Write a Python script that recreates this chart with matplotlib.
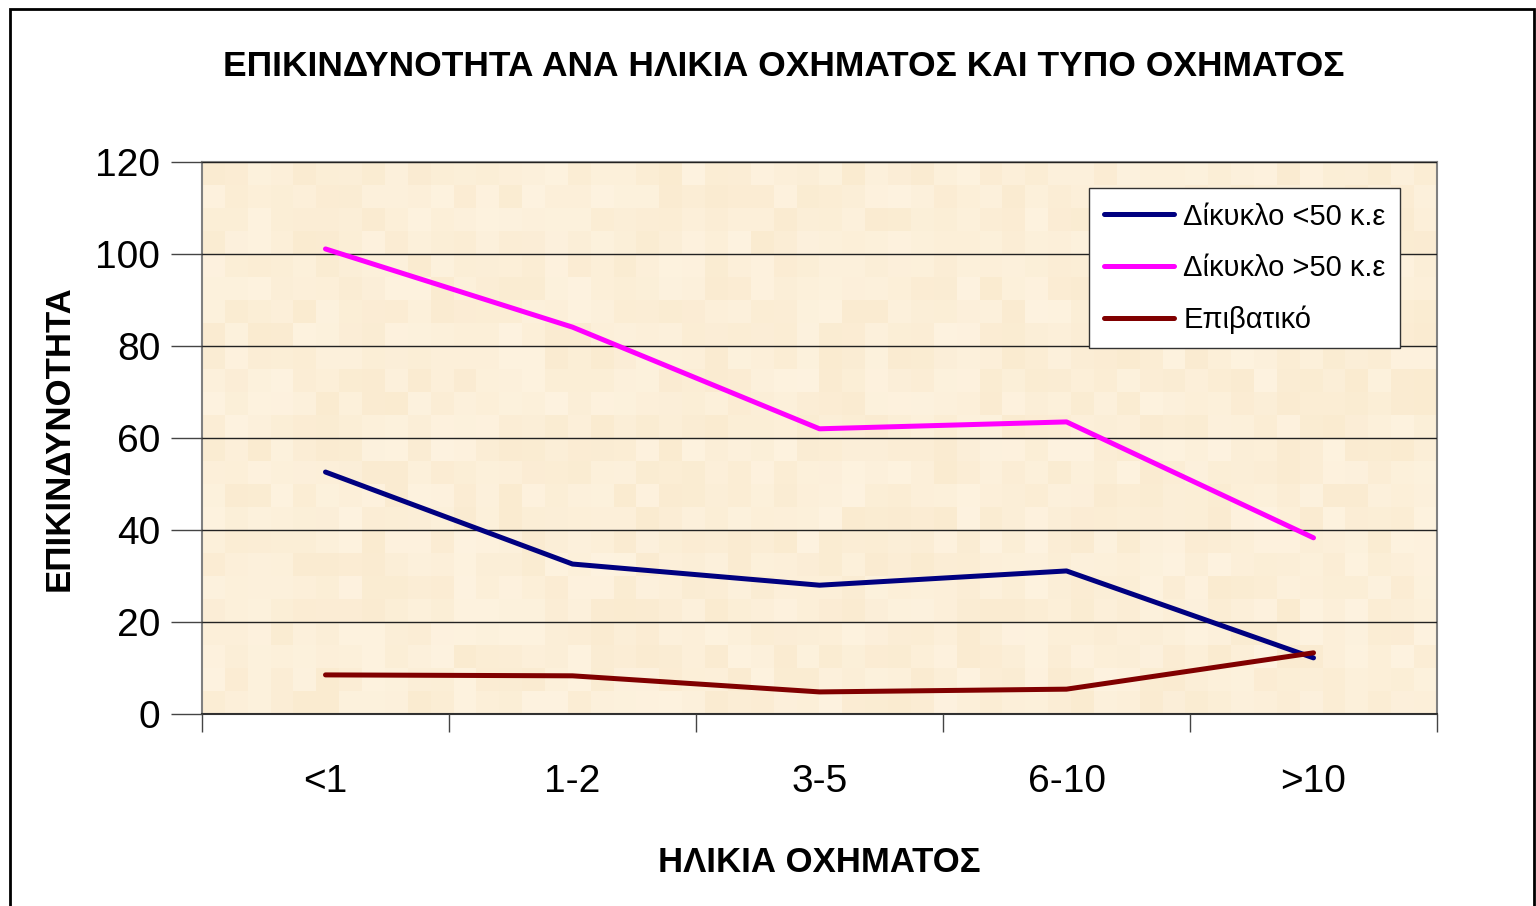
import numpy as np
import matplotlib
matplotlib.use("Agg")
import matplotlib.pyplot as plt
from matplotlib.patches import Rectangle

plt.rcParams['font.family'] = ['Liberation Sans Narrow', 'Liberation Sans', 'DejaVu Sans']

# 数据
categories = ["<1", "1-2", "3-5", "6-10", ">10"]
dikyklo_lt50 = [52.6, 32.6, 28.0, 31.1, 12.2]
dikyklo_gt50 = [101.1, 84.1, 62.0, 63.5, 38.3]
epivatiko = [8.5, 8.3, 4.8, 5.4, 13.3]
series_names = ["Δίκυκλο <50 κ.ε", "Δίκυκλο >50 κ.ε", "Επιβατικό"]
series_colors = ["#000080", "#FF00FF", "#800000"]
y_ticks = [0, 20, 40, 60, 80, 100, 120]

W, H = 1536, 906
fig = plt.figure(figsize=(W / 100, H / 100), dpi=100, facecolor="white")
ax = fig.add_axes([202 / W, 1 - 714 / H, (1437 - 202) / W, (714 - 162) / H])

# 背景纹理（米色方块）
rng = np.random.default_rng(3)
tex = rng.uniform(0, 1, (24, 54))
base = np.array([0.988, 0.937, 0.847])
img = base[None, None, :] + (tex[..., None] - 0.5) * np.array([0.012, 0.03, 0.06])[None, None, :]
ax.imshow(np.clip(img, 0, 1), extent=[-0.5, 4.5, 0, 120], aspect="auto",
          interpolation="nearest", zorder=0)

x = np.arange(len(categories))
for vals, name, col in zip([dikyklo_lt50, dikyklo_gt50, epivatiko], series_names, series_colors):
    ax.plot(x, vals, color=col, lw=3.6, label=name, solid_capstyle="round", zorder=3)

ax.set_xlim(-0.5, 4.5)
ax.set_ylim(0, 120)
ax.set_yticks(y_ticks)
ax.set_yticklabels([str(v) for v in y_ticks], fontsize=28)
ax.yaxis.grid(True, color="#222222", lw=1.0, zorder=1)
ax.set_axisbelow(False)

ax.set_xticks(x)
ax.set_xticklabels(categories, fontsize=28)
ax.set_xticks(np.arange(-0.5, 5, 1), minor=True)
ax.tick_params(axis="x", which="major", length=0, pad=36)
ax.tick_params(axis="x", which="minor", length=13, width=1, color="#444444", direction="out")
ax.tick_params(axis="y", length=22, width=1, color="#444444", pad=8)

for side in ["top", "right", "left"]:
    ax.spines[side].set_color("#808080")
    ax.spines[side].set_linewidth(1.5)
ax.spines["bottom"].set_color("#333333")
ax.spines["bottom"].set_linewidth(1.5)

ax.set_xlabel("ΗΛΙΚΙΑ ΟΧΗΜΑΤΟΣ", fontsize=25, fontweight="bold", labelpad=33)
ax.set_ylabel("ΕΠΙΚΙΝΔΥΝΟΤΗΤΑ", fontsize=25, fontweight="bold", labelpad=14)

fig.text(784 / W, 1 - 67 / H, "ΕΠΙΚΙΝΔΥΝΟΤΗΤΑ ΑΝΑ ΗΛΙΚΙΑ ΟΧΗΜΑΤΟΣ ΚΑΙ ΤΥΠΟ ΟΧΗΜΑΤΟΣ",
         ha="center", va="center", fontsize=25.5, fontweight="bold")

leg = ax.legend(loc="upper left", bbox_to_anchor=((1089 - 202) / (1437 - 202), 1 - (188 - 162) / (714 - 162)),
                fontsize=21, frameon=True, fancybox=False, framealpha=1, edgecolor="#333333",
                handlelength=2.4, handletextpad=0.33, borderpad=0.5, labelspacing=0.8,
                borderaxespad=0)
leg.get_frame().set_linewidth(1.0)

# 外框
fig.add_artist(Rectangle((10 / W, -0.05), (1534 - 10) / W, 1.05 - 9 / H,
                         transform=fig.transFigure, fill=False, edgecolor="black", lw=2))

fig.savefig("out.png", dpi=100, facecolor="white")
